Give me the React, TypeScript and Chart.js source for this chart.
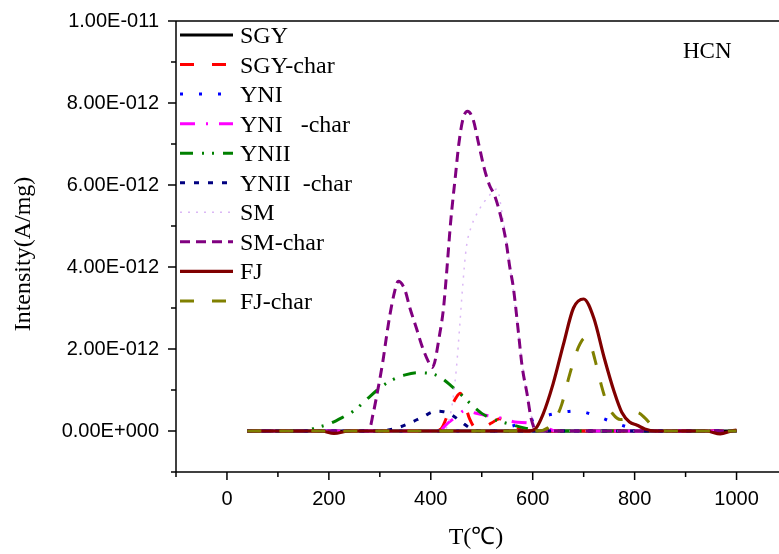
import { useEffect, useRef } from "react";
import { Chart, registerables } from "chart.js";

Chart.register(...registerables);

// Values are in units of 1e-12 A/mg
const X_TICKS = [0, 200, 400, 600, 800, 1000];
const Y_TICKS = [0, 2, 4, 6, 8, 10];

const T_SGY = [40, 300, 600, 1000];
const V_SGY = [0, 0, 0, 0];

const T_SGY_CHAR = [40, 405, 420, 435, 450, 458, 466, 476, 490, 505, 520, 535, 550, 565, 585, 1000];
const V_SGY_CHAR = [0, 0, 0.05, 0.45, 0.82, 0.92, 0.7, 0.3, 0.06, 0.1, 0.2, 0.3, 0.22, 0.12, 0, 0];

const T_YNI = [40, 530, 560, 590, 620, 650, 685, 720, 750, 785, 815, 1000];
const V_YNI = [0, 0, 0.12, 0.23, 0.35, 0.44, 0.49, 0.39, 0.25, 0.1, 0, 0];

const T_YNI_CHAR = [40, 415, 434, 450, 467, 487, 510, 540, 565, 590, 620, 645, 1000];
const V_YNI_CHAR = [0, 0, 0.2, 0.35, 0.5, 0.44, 0.38, 0.31, 0.22, 0.2, 0.12, 0, 0];

const T_YNII = [40, 150, 175, 200, 225, 250, 275, 300, 325, 350, 375, 400, 420, 440, 460, 480, 500, 520, 540, 560, 585, 615, 1000];
const V_YNII = [0, 0, 0.08, 0.17, 0.32, 0.5, 0.78, 1.05, 1.25, 1.37, 1.42, 1.4, 1.3, 1.1, 0.88, 0.64, 0.43, 0.3, 0.22, 0.15, 0.07, 0, 0];

const T_YNII_CHAR = [40, 300, 330, 360, 385, 410, 425, 440, 460, 480, 500, 1000];
const V_YNII_CHAR = [0, 0, 0.06, 0.2, 0.35, 0.48, 0.47, 0.4, 0.22, 0.05, 0, 0];

const T_SM = [40, 425, 440, 450, 457, 463, 470, 480, 495, 510, 530, 540, 550, 560, 570, 580, 590, 600, 612, 1000];
const V_SM = [0, 0, 0.5, 1.5, 2.6, 3.6, 4.5, 5.0, 5.4, 5.67, 5.9, 5.3, 4.5, 3.6, 2.6, 1.6, 0.8, 0.25, 0, 0];

const T_SM_CHAR = [40, 278, 287, 296, 306, 313, 320, 329, 336, 349, 359, 372, 382, 395, 403, 418, 425, 431, 439, 449, 455, 463, 472, 483, 494, 505, 515, 525, 538, 548, 555, 562, 572, 579, 589, 597, 608, 1000];
const V_SM_CHAR = [0, 0, 0.43, 1.0, 1.7, 2.3, 2.85, 3.4, 3.65, 3.45, 3.0, 2.5, 2.1, 1.7, 1.55, 2.4, 3.0, 3.85, 5.1, 6.3, 7.0, 7.6, 7.8, 7.6, 7.0, 6.4, 6.0, 5.75, 5.2, 4.6, 4.0, 3.5, 2.4, 1.6, 0.9, 0.3, 0, 0];

const T_FJ = [40, 150, 185, 210, 240, 300, 590, 605, 620, 640, 660, 680, 700, 720, 740, 760, 775, 790, 805, 820, 840, 940, 968, 990, 1000];
const V_FJ = [0, 0, 0, -0.06, 0, 0, 0, 0.05, 0.4, 1.15, 2.1, 3.0, 3.22, 2.75, 1.8, 0.95, 0.45, 0.22, 0.14, 0.05, 0, 0, -0.07, 0, 0.02];

const T_FJ_CHAR = [40, 610, 630, 645, 657, 673, 690, 703, 715, 725, 735, 745, 757, 772, 790, 805, 820, 835, 852, 1000];
const V_FJ_CHAR = [0, 0, 0.08, 0.3, 0.65, 1.4, 2.05, 2.27, 2.05, 1.6, 1.1, 0.7, 0.42, 0.28, 0.33, 0.45, 0.32, 0.12, 0, 0];

const LABELS = ["SGY", "SGY-char", "YNI", "YNI   -char", "YNII", "YNII  -char", "SM", "SM-char", "FJ", "FJ-char"];
const XS = [T_SGY, T_SGY_CHAR, T_YNI, T_YNI_CHAR, T_YNII, T_YNII_CHAR, T_SM, T_SM_CHAR, T_FJ, T_FJ_CHAR];
const YS = [V_SGY, V_SGY_CHAR, V_YNI, V_YNI_CHAR, V_YNII, V_YNII_CHAR, V_SM, V_SM_CHAR, V_FJ, V_FJ_CHAR];
const COLORS = ["#000000", "#ff0000", "#0000ff", "#ff00ff", "#008000", "#000080", "#dbb8f5", "#800080", "#800000", "#808000"];
const WIDTHS = [3, 3, 3, 3, 3, 3, 1.5, 3, 3.2, 3];
const DASHES: number[][] = [[], [14, 18], [3, 16], [15, 11, 2, 11], [13, 9, 2, 8, 2, 9], [5, 9], [2, 6], [10, 6], [], [14, 18]];

const SERIF = "'Liberation Serif', 'Times New Roman', serif";
const SANS = "'Liberation Sans', Arial, sans-serif";

function fmtY(v: number): string {
  if (v === 0) return "0.00E+000";
  const e = Math.floor(Math.log10(v) + 1e-9);
  const m = v / Math.pow(10, e);
  const exp = e - 12;
  return `${m.toFixed(2)}E${exp < 0 ? "-" : "+"}${String(Math.abs(exp)).padStart(3, "0")}`;
}

const decorPlugin = {
  id: "decor",
  afterDatasetsDraw(chart: any) {
    const { ctx, chartArea: a, scales } = chart;
    const xs = scales.x, ys = scales.y;
    ctx.save();
    ctx.strokeStyle = "#000";
    ctx.lineWidth = 1.5;
    const line = (x1: number, y1: number, x2: number, y2: number) => {
      ctx.beginPath(); ctx.moveTo(x1, y1); ctx.lineTo(x2, y2); ctx.stroke();
    };
    line(a.left, a.top, a.left, a.bottom);
    line(a.left, a.bottom, a.right, a.bottom);
    line(a.left, a.top, a.right, a.top);
    for (let v = ys.min; v <= ys.max; v += 1) {
      const len = v % 2 === 0 ? 8 : 5;
      const y = ys.getPixelForValue(v);
      line(a.left - len, y, a.left, y);
    }
    for (let t = xs.min; t <= xs.max; t += 100) {
      const len = t % 200 === 0 ? 8 : 5;
      const x = xs.getPixelForValue(t);
      line(x, a.bottom, x, a.bottom + len);
    }
    ctx.restore();
  },
  afterDraw(chart: any) {
    const { ctx } = chart;
    ctx.save();
    // legend
    for (let i = 0; i < LABELS.length; i++) {
      const cy = 35 + i * 29.55;
      ctx.strokeStyle = COLORS[i];
      ctx.lineWidth = WIDTHS[i];
      ctx.setLineDash(DASHES[i]);
      ctx.beginPath(); ctx.moveTo(180, cy); ctx.lineTo(233, cy); ctx.stroke();
      ctx.setLineDash([]);
      ctx.fillStyle = "#000";
      ctx.font = `24px ${SERIF}`;
      ctx.textAlign = "left";
      ctx.textBaseline = "alphabetic";
      ctx.fillText(LABELS[i], 240, cy + 8);
    }
    // annotation
    ctx.font = `23px ${SERIF}`;
    ctx.fillText("HCN", 683, 58);
    // axis titles
    ctx.font = `24px ${SERIF}`;
    ctx.textAlign = "center";
    ctx.fillText("T(℃)", 476, 544);
    ctx.translate(24, 254);
    ctx.rotate(-Math.PI / 2);
    ctx.textBaseline = "middle";
    ctx.fillText("Intensity(A/mg)", 0, 0);
    ctx.restore();
  },
};

export default function App() {
  const ref = useRef<HTMLCanvasElement>(null);
  useEffect(() => {
    const datasets = LABELS.map((label, i) => ({
      label,
      data: XS[i].map((t, j) => ({ x: t, y: YS[i][j] })),
      borderColor: COLORS[i],
      backgroundColor: COLORS[i],
      borderWidth: WIDTHS[i],
      borderDash: DASHES[i],
      cubicInterpolationMode: "monotone" as const,
      pointRadius: 0,
      fill: false,
      order: LABELS.length - i,
    }));
    const chart = new Chart(ref.current!, {
      type: "line",
      data: { datasets },
      plugins: [decorPlugin],
      options: {
        responsive: false,
        devicePixelRatio: 1,
        animation: false,
        layout: { padding: { left: 0, right: 12.5, top: 21, bottom: 0 } },
        plugins: { legend: { display: false }, tooltip: { enabled: false } },
        scales: {
          x: {
            type: "linear",
            min: -100,
            max: 1100,
            grid: { display: false },
            border: { display: false },
            ticks: {
              autoSkip: false,
              maxRotation: 0,
              padding: 7,
              color: "#000",
              font: { family: SANS, size: 20 },
              callback: (v: any) => String(v),
            },
            afterBuildTicks: (s: any) => { s.ticks = X_TICKS.map((v) => ({ value: v })); },
            afterFit: (s: any) => { s.height = 82; s.paddingLeft = 0; s.paddingRight = 0; },
          },
          y: {
            type: "linear",
            min: -1,
            max: 10,
            grid: { display: false },
            border: { display: false },
            ticks: {
              padding: 9,
              color: "#000",
              font: { family: SANS, size: 20 },
              callback: (v: any) => fmtY(Number(v)),
            },
            afterBuildTicks: (s: any) => { s.ticks = Y_TICKS.map((v) => ({ value: v })); },
            afterFit: (s: any) => { s.width = 176; s.paddingTop = 0; s.paddingBottom = 0; },
          },
        },
      },
    });
    return () => chart.destroy();
  }, []);
  return (
    <div style={{ position: "fixed", left: 0, top: 0, width: 779, height: 554, overflow: "hidden", background: "#fff" }}>
      <canvas ref={ref} width={800} height={554} style={{ display: "block", width: 800, height: 554 }} />
    </div>
  );
}
